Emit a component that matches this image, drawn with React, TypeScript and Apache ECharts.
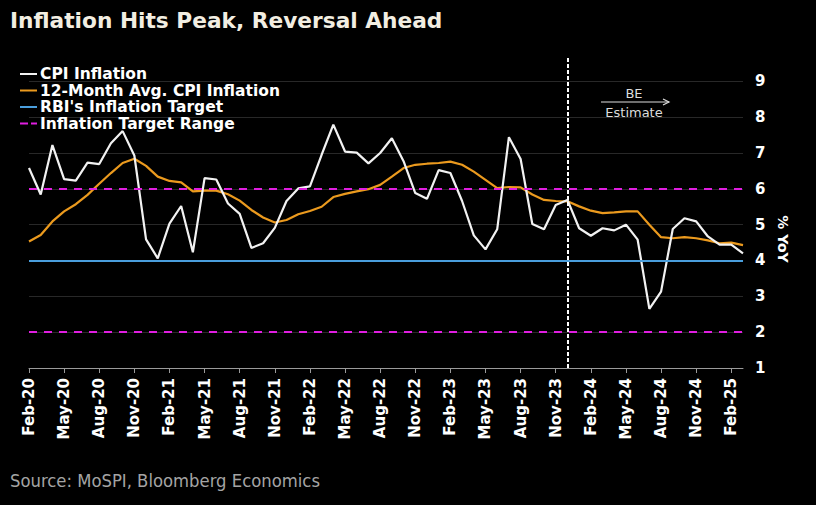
import React, { useEffect, useRef } from "react";
import * as echarts from "echarts";

const categories = [
  "Feb-20", "Mar-20", "Apr-20", "May-20", "Jun-20", "Jul-20", "Aug-20", "Sep-20", "Oct-20", "Nov-20", "Dec-20",
  "Jan-21", "Feb-21", "Mar-21", "Apr-21", "May-21", "Jun-21", "Jul-21", "Aug-21", "Sep-21", "Oct-21", "Nov-21", "Dec-21",
  "Jan-22", "Feb-22", "Mar-22", "Apr-22", "May-22", "Jun-22", "Jul-22", "Aug-22", "Sep-22", "Oct-22", "Nov-22", "Dec-22",
  "Jan-23", "Feb-23", "Mar-23", "Apr-23", "May-23", "Jun-23", "Jul-23", "Aug-23", "Sep-23", "Oct-23", "Nov-23", "Dec-23",
  "Jan-24", "Feb-24", "Mar-24", "Apr-24", "May-24", "Jun-24", "Jul-24", "Aug-24", "Sep-24", "Oct-24", "Nov-24", "Dec-24",
  "Jan-25", "Feb-25", "Mar-25",
];

const cpiInflation = [
  6.58, 5.84, 7.22, 6.27, 6.23, 6.73, 6.69, 7.27, 7.61, 6.93, 4.59,
  4.06, 5.03, 5.52, 4.23, 6.3, 6.26, 5.59, 5.3, 4.35, 4.48, 4.91, 5.66,
  6.01, 6.07, 6.95, 7.79, 7.04, 7.01, 6.71, 7.0, 7.41, 6.77, 5.88, 5.72,
  6.52, 6.44, 5.66, 4.7, 4.31, 4.87, 7.44, 6.83, 5.02, 4.87, 5.55, 5.69,
  4.9, 4.69, 4.9, 4.84, 5.0, 4.58, 2.65, 3.13, 4.88, 5.18, 5.09, 4.67,
  4.44, 4.44, 4.2,
];

const avgCpiInflation = [
  4.53, 4.71, 5.09, 5.37, 5.57, 5.83, 6.14, 6.44, 6.72, 6.84, 6.64,
  6.34, 6.22, 6.18, 5.93, 5.95, 5.95, 5.85, 5.67, 5.41, 5.2, 5.06, 5.13,
  5.29, 5.38, 5.5, 5.77, 5.86, 5.93, 5.99, 6.11, 6.34, 6.58, 6.67, 6.7,
  6.72, 6.76, 6.67, 6.48, 6.25, 6.02, 6.05, 6.04, 5.84, 5.69, 5.66, 5.65,
  5.51, 5.39, 5.32, 5.34, 5.37, 5.37, 5.0, 4.65, 4.62, 4.65, 4.62, 4.56,
  4.48, 4.5, 4.43,
];

const RBI_TARGET = 4;
const TARGET_RANGE = [2, 6];
const ESTIMATE_START = "Dec-23";
const Y_TICKS = [1, 2, 3, 4, 5, 6, 7, 8, 9];

const FONT = "'DejaVu Sans', Verdana, sans-serif";
const DASH_ICON = "path://M0 0H8V2H0Z M11 0H17V2H11Z";

export default function App() {
  const ref = useRef<HTMLDivElement>(null);

  useEffect(() => {
    document.body.style.margin = "0";
    document.body.style.background = "#000";
    const chart = echarts.init(ref.current!, null, { renderer: "svg" });
    const option: any = {
      animation: false,
      backgroundColor: "#000",
      title: [
        {
          text: "Inflation Hits Peak, Reversal Ahead",
          left: 10,
          top: 9,
          padding: 0,
          textStyle: { color: "#f2eee2", fontSize: 21.7, fontWeight: "bold", fontFamily: FONT },
        },
        {
          text: "Source: MoSPI, Bloomberg Economics",
          left: 10,
          top: 471,
          padding: 0,
          textStyle: { color: "#a4a4a4", fontSize: 18.3, fontWeight: "normal", fontFamily: "'DejaVu Sans Condensed', 'DejaVu Sans', sans-serif" },
        },
      ],
      legend: {
        orient: "vertical",
        left: 20,
        top: 66,
        padding: 0,
        itemGap: 0.5,
        itemWidth: 17,
        itemHeight: 2,
        data: [
          { name: "CPI Inflation", icon: "rect", itemStyle: { color: "#f2f2f2" } },
          { name: "12-Month Avg. CPI Inflation", icon: "rect", itemStyle: { color: "#eb9a1e" } },
          { name: "RBI's Inflation Target", icon: "rect", itemStyle: { color: "#4a9edc" } },
          { name: "Inflation Target Range", icon: DASH_ICON, itemStyle: { color: "#e01ee0" } },
        ],
        textStyle: { color: "#ffffff", fontSize: 15.5, lineHeight: 16, fontWeight: "bold", fontFamily: FONT, padding: [0, 0, 0, -2] },
        selectedMode: false,
      },
      grid: { left: 29, right: 73, top: 58, bottom: 137, containLabel: false },
      xAxis: {
        type: "category",
        data: categories,
        boundaryGap: false,
        axisLine: { show: true, lineStyle: { color: "#9a9a9a", width: 1 } },
        axisTick: { show: true, interval: 2, length: 5, lineStyle: { color: "#9a9a9a" } },
        axisLabel: {
          interval: 2,
          rotate: 90,
          margin: 10,
          color: "#ffffff",
          fontSize: 15,
          fontWeight: "bold",
          fontFamily: FONT,
        },
        splitLine: { show: false },
      },
      yAxis: {
        type: "value",
        position: "right",
        min: 1,
        max: 9.65,
        interval: 1,
        axisLine: { show: false },
        axisTick: { show: false },
        axisLabel: {
          margin: 12,
          color: "#ffffff",
          fontSize: 15,
          fontWeight: "bold",
          fontFamily: FONT,
          showMaxLabel: false,
          formatter: (v: number) => (Y_TICKS.includes(v) ? String(v) : ""),
        },
        splitLine: { show: true, showMaxLine: false, lineStyle: { color: "#282828", width: 1 } },
      },
      series: [
        {
          name: "Inflation Target Range",
          type: "line",
          data: [],
          symbol: "none",
          lineStyle: { color: "#e01ee0", width: 2, type: [7, 5] },
          itemStyle: { color: "#e01ee0" },
          markLine: {
            silent: true,
            symbol: ["none", "none"],
            label: { show: false },
            lineStyle: { color: "#e01ee0", width: 2, type: [8, 7] },
            data: TARGET_RANGE.map((v) => ({ yAxis: v })),
          },
        },
        {
          name: "RBI's Inflation Target",
          type: "line",
          data: [],
          symbol: "none",
          lineStyle: { color: "#4a9edc", width: 2 },
          itemStyle: { color: "#4a9edc" },
          markLine: {
            silent: true,
            symbol: ["none", "none"],
            label: { show: false },
            lineStyle: { color: "#4a9edc", width: 2, type: "solid" },
            data: [{ yAxis: RBI_TARGET }],
          },
        },
        {
          name: "12-Month Avg. CPI Inflation",
          type: "line",
          data: avgCpiInflation,
          symbol: "none",
          lineStyle: { color: "#eb9a1e", width: 2.2 },
          itemStyle: { color: "#eb9a1e" },
        },
        {
          name: "CPI Inflation",
          type: "line",
          data: cpiInflation,
          symbol: "none",
          lineStyle: { color: "#f2f2f2", width: 2.2 },
          itemStyle: { color: "#f2f2f2" },
          markLine: {
            silent: true,
            symbol: ["none", "none"],
            label: { show: false },
            lineStyle: { color: "#ffffff", width: 2, type: [4, 2] },
            data: [{ xAxis: ESTIMATE_START }],
          },
        },
      ],
      graphic: [
        {
          type: "text",
          x: 634,
          y: 93,
          style: { text: "BE", fill: "#dddddd", font: `13px ${FONT}`, textAlign: "center", textVerticalAlign: "middle" },
        },
        {
          type: "line",
          shape: { x1: 601, y1: 102, x2: 669, y2: 102 },
          style: { stroke: "#dddddd", lineWidth: 1.2 },
        },
        {
          type: "polyline",
          shape: { points: [[663, 99], [669, 102], [663, 105]] },
          style: { stroke: "#dddddd", lineWidth: 1.2, fill: null },
        },
        {
          type: "text",
          x: 634,
          y: 112,
          style: { text: "Estimate", fill: "#dddddd", font: `13px ${FONT}`, textAlign: "center", textVerticalAlign: "middle" },
        },
        {
          type: "text",
          x: 783,
          y: 239,
          rotation: -Math.PI / 2,
          style: { text: "% YoY", fill: "#ffffff", font: `bold 14px ${FONT}`, textAlign: "center", textVerticalAlign: "middle" },
        },
      ],
    };
    chart.setOption(option);
    return () => chart.dispose();
  }, []);

  return (
    <div
      ref={ref}
      style={{ position: "fixed", left: 0, top: 0, width: 816, height: 505, background: "#000" }}
    />
  );
}
